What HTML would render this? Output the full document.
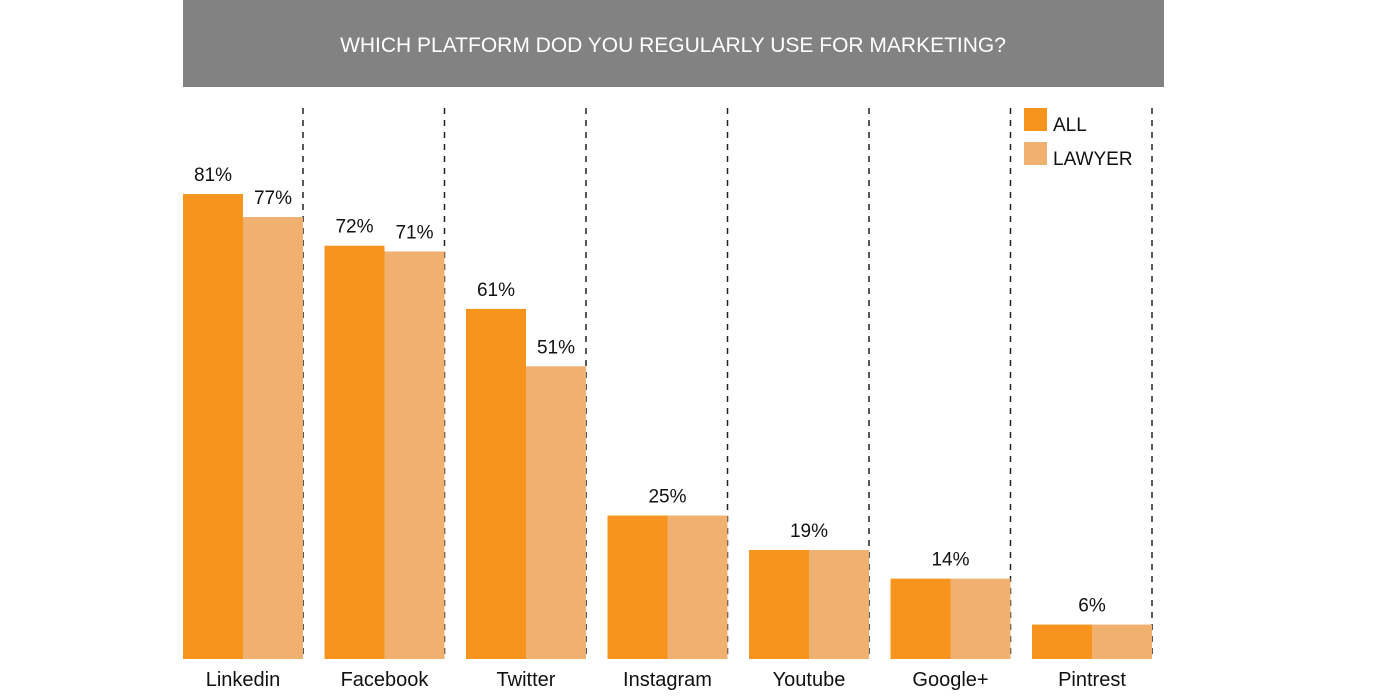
<!DOCTYPE html>
<html><head><meta charset="utf-8"><style>
html,body{margin:0;padding:0;background:#fff;width:1400px;height:700px;overflow:hidden;font-family:"Liberation Sans",sans-serif;}
</style></head><body>
<svg id="chart" width="1400" height="700" xmlns="http://www.w3.org/2000/svg">
<rect x="183" y="0" width="981" height="87" fill="#828282"/>
<text x="673" y="52" text-anchor="middle" fill="#fff" font-size="21" font-family="Liberation Sans, sans-serif">WHICH PLATFORM DOD YOU REGULARLY USE FOR MARKETING?</text>
<g id="plot"></g>
<g>
<rect x="1024" y="108" width="23" height="23" fill="#F7941D"/>
<text x="1053" y="131" font-size="19" fill="#111">ALL</text>
<rect x="1024" y="142" width="23" height="23" fill="#F0B170"/>
<text x="1053" y="165" font-size="19" fill="#111">LAWYER</text>
</g>
</svg>
<script>
const categories = ["Linkedin","Facebook","Twitter","Instagram","Youtube","Google+","Pintrest"];
const allValues = [81,72,61,25,19,14,6];
const lawyerValues = [77,71,51,25,19,14,6];
const NS="http://www.w3.org/2000/svg";
const plot=document.getElementById('plot');
const baseY=659, perPct=5.74, x0=183, groupW=141.5, barW=60;
function yScale(v){return baseY - v*perPct;}
function xGroup(i){return x0 + i*groupW;}
function mk(tag,attrs){const e=document.createElementNS(NS,tag);for(const k in attrs)e.setAttribute(k,attrs[k]);plot.appendChild(e);return e;}
categories.forEach((c,i)=>{
  const gx=xGroup(i);
  const dl=mk('line',{x1:gx+120,x2:gx+120,y1:108,y2:659,stroke:'#222','stroke-width':1.5,'stroke-dasharray':'6,6'});
  
  
  const series=[[allValues[i],'#F7941D','all'],[lawyerValues[i],'#F0B170','lawyer']];
  const same=allValues[i]===lawyerValues[i];
  series.forEach((s,j)=>{
    const y=yScale(s[0]);
    const r=mk('rect',{x:gx+j*barW,y:y,width:barW,height:baseY-y,fill:s[1]});
    
    
    if(!same||j===0){
      const t=mk('text',{x:same?gx+barW:gx+j*barW+barW/2,y:y-13,'text-anchor':'middle','font-size':19,fill:'#111'});
      t.textContent=s[0]+'%';
      
      
    }
  });
  const l=mk('text',{x:gx+barW,y:686,'text-anchor':'middle','font-size':20,fill:'#111'});
  l.textContent=c;
  
  
});
</script>
</body></html>
